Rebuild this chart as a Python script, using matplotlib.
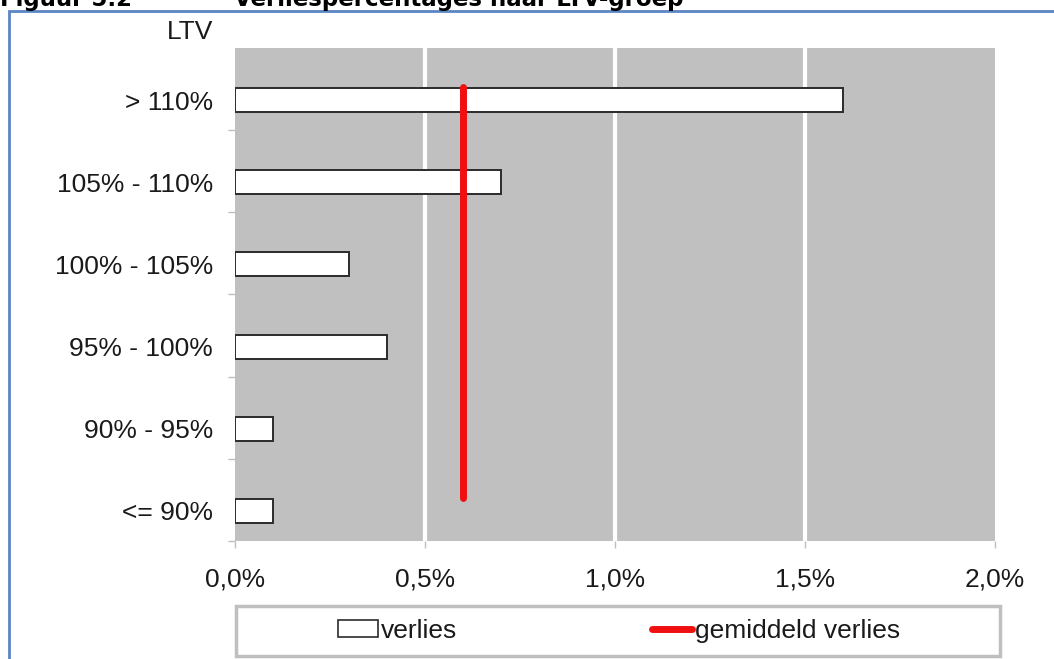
import matplotlib.pyplot as plt
import numpy as np
from matplotlib.ticker import FuncFormatter, FixedLocator
from matplotlib.patches import Rectangle
from matplotlib.lines import Line2D

# LTV groups, bottom to top as on the chart
categories = ['<= 90%', '90% - 95%', '95% - 100%', '100% - 105%', '105% - 110%', '> 110%']
verlies = [0.1, 0.1, 0.4, 0.3, 0.7, 1.6]   # loss per LTV group (%)
gemiddeld_verlies = 0.6                     # average loss (%)
x_ticks = [0.0, 0.5, 1.0, 1.5, 2.0]

plt.rcParams['font.family'] = ['Liberation Sans', 'DejaVu Sans']
text_color = '#1a1a1a'
light = '#bfbfbf'

W, H = 1054, 659
fig = plt.figure(figsize=(W / 100, H / 100), dpi=100)
ax = fig.add_axes([235 / W, 1 - 541 / H, 760 / W, 493 / H])

pos = np.arange(len(categories))
ax.set_facecolor('#c0c0c0')
ax.barh(pos, verlies, height=0.29, color='white', edgecolor='#2b2b2b',
        linewidth=1.4, zorder=3)

# average line runs over all groups (Excel puts it slightly below the category centres)
ax.plot([gemiddeld_verlies] * len(pos), pos + 0.16, color='#f01010', lw=5,
        solid_capstyle='round', zorder=4)

ax.set_xlim(0, 2.0)
ax.set_ylim(-0.365, 5.633)
ax.set_xticks(x_ticks)
ax.xaxis.set_major_formatter(FuncFormatter(lambda v, p: f'{v:.1f}%'.replace('.', ',')))
ax.set_yticks(pos)
ax.set_yticklabels(categories)
ax.yaxis.set_minor_locator(FixedLocator(np.arange(-0.365, 5.0, 1.0)))

ax.grid(axis='x', color='white', lw=3, zorder=1)
gl = ax.xaxis.get_gridlines()
gl[0].set_visible(False)
gl[-1].set_visible(False)

ax.tick_params(axis='y', which='major', length=0, pad=16, labelsize=19, labelcolor=text_color)
ax.tick_params(axis='y', which='minor', length=5, color=light, width=1)
ax.tick_params(axis='x', length=5, color=light, width=1, pad=14, labelsize=19,
               labelcolor=text_color)
for s in ax.spines.values():
    s.set_visible(False)

fig.text(213 / W, 1 - 32 / H, 'LTV', ha='right', va='center', fontsize=19, color=text_color)

# title, cut off at the top of the image as in the source
fig.text(0, 1 - 6 / H, 'Figuur 5.2', ha='left', va='baseline', fontsize=16.5,
         fontweight='bold', family='DejaVu Sans', color='black')
fig.text(234 / W, 1 - 6 / H, 'Verliespercentages naar LTV-groep', ha='left', va='baseline',
         fontsize=16.5, fontweight='bold', family='DejaVu Sans', color='black')

# blue frame around the chart (right and bottom sides fall outside the image)
fig.patches.append(Rectangle((9 / W, -0.1), 1.2, 1.1 - 11 / H, transform=fig.transFigure,
                             fill=False, edgecolor='#5a86c4', lw=2))

# legend box
fig.patches.append(Rectangle((236 / W, 1 - 656 / H), 764 / W, 50 / H, transform=fig.transFigure,
                             facecolor='white', edgecolor=light, lw=2.5))
handles = [Rectangle((0, 0), 1, 1, facecolor='white', edgecolor='#2b2b2b', lw=1.2),
           Line2D([0], [0], color='#f01010', lw=5, solid_capstyle='round')]
fig.legend(handles, ['verlies', 'gemiddeld verlies'], ncol=2, loc='center',
           bbox_to_anchor=(619 / W, 1 - 631 / H), frameon=False, fontsize=19,
           handlelength=1.5, handleheight=0.6, handletextpad=0.12, columnspacing=7.4,
           labelcolor=text_color)

fig.savefig('out.png', dpi=100)
